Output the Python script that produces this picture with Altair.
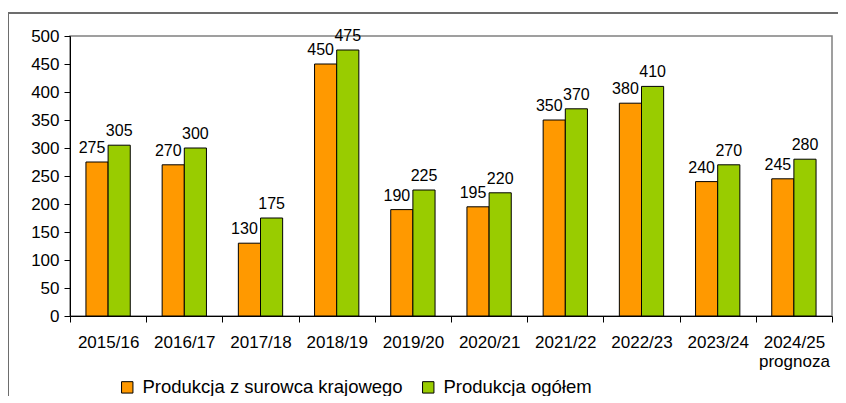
import altair as alt
import pandas as pd

sezony = ["2015/16", "2016/17", "2017/18", "2018/19", "2019/20",
          "2020/21", "2021/22", "2022/23", "2023/24", "2024/25"]
krajowa = [275, 270, 130, 450, 190, 195, 350, 380, 240, 245]
ogolem = [305, 300, 175, 475, 225, 220, 370, 410, 270, 280]
serie = ["Produkcja z surowca krajowego", "Produkcja ogółem"]
kolory = ["#FF9900", "#99CC00"]

rows = []
for s, a, b in zip(sezony, krajowa, ogolem):
    rows.append({"sezon": s, "seria": serie[0], "wartosc": a})
    rows.append({"sezon": s, "seria": serie[1], "wartosc": b})
df = pd.DataFrame(rows)

FONT = "Liberation Sans"

x_enc = alt.X(
    "sezon:N", sort=sezony, title=None,
    scale=alt.Scale(paddingInner=0, paddingOuter=0),
    axis=alt.Axis(
        labelAngle=0, labelFontSize=17, labelColor="black", tickBand="extent",
        tickSize=6, tickColor="black", domainColor="black", labelPadding=12,
        labelLineHeight=19,
        labelExpr="datum.value == '2024/25' ? ['2024/25', 'prognoza'] : datum.value",
    ),
)
y_enc = alt.Y(
    "wartosc:Q", title=None,
    scale=alt.Scale(domain=[0, 500], nice=False),
    axis=alt.Axis(
        values=list(range(0, 501, 50)), labelFontSize=17, labelColor="black",
        tickSize=6, tickColor="black", domainColor="black", grid=False,
        labelPadding=5,
    ),
)
xoff = alt.XOffset(
    "seria:N", sort=serie,
    scale=alt.Scale(domain=serie, paddingInner=0, paddingOuter=0.72),
)

bars = alt.Chart(df).mark_bar(stroke="black", strokeWidth=1).encode(
    x=x_enc, y=y_enc, xOffset=xoff,
    color=alt.Color(
        "seria:N", sort=serie,
        scale=alt.Scale(domain=serie, range=kolory),
        legend=alt.Legend(
            title=None, orient="none", direction="horizontal",
            legendX=48, legendY=342, symbolType="square", symbolSize=130,
            symbolStrokeColor="black", symbolStrokeWidth=1, symbolOpacity=1,
            labelFontSize=18.5, labelColor="black", labelOffset=6,
            columnPadding=16, labelLimit=400,
        ),
    ),
)

lab1 = alt.Chart(df).transform_filter(
    alt.datum.seria == serie[0]
).mark_text(baseline="bottom", dy=-6, dx=-5, fontSize=16, color="black").encode(
    x=x_enc, y=y_enc, xOffset=xoff, text="wartosc:Q",
)
lab2 = alt.Chart(df).transform_filter(
    alt.datum.seria == serie[1]
).mark_text(baseline="bottom", dy=-6, fontSize=16, color="black").encode(
    x=x_enc, y=y_enc, xOffset=xoff, text="wartosc:Q",
)

frame_top = alt.Chart(df).mark_rule(color="#6e6e6e", strokeWidth=1.5).encode(
    x=alt.value(-62), x2=alt.value(800), y=alt.value(-23),
)
frame_left = alt.Chart(df).mark_rule(color="#6e6e6e", strokeWidth=1.5).encode(
    x=alt.value(-62), y=alt.value(-23), y2=alt.value(400),
)

chart = alt.layer(bars, lab1, lab2, frame_top, frame_left).properties(
    width=762, height=280,
    autosize=alt.AutoSizeParams(type="none"),
    padding={"left": 62, "top": 28, "right": 6, "bottom": 80},
).configure(
    font=FONT,
).configure_view(
    stroke="#808080", strokeWidth=1.5,
).configure_text(font=FONT)

chart.save("out.html", embed_options={"renderer": "svg", "actions": False})
